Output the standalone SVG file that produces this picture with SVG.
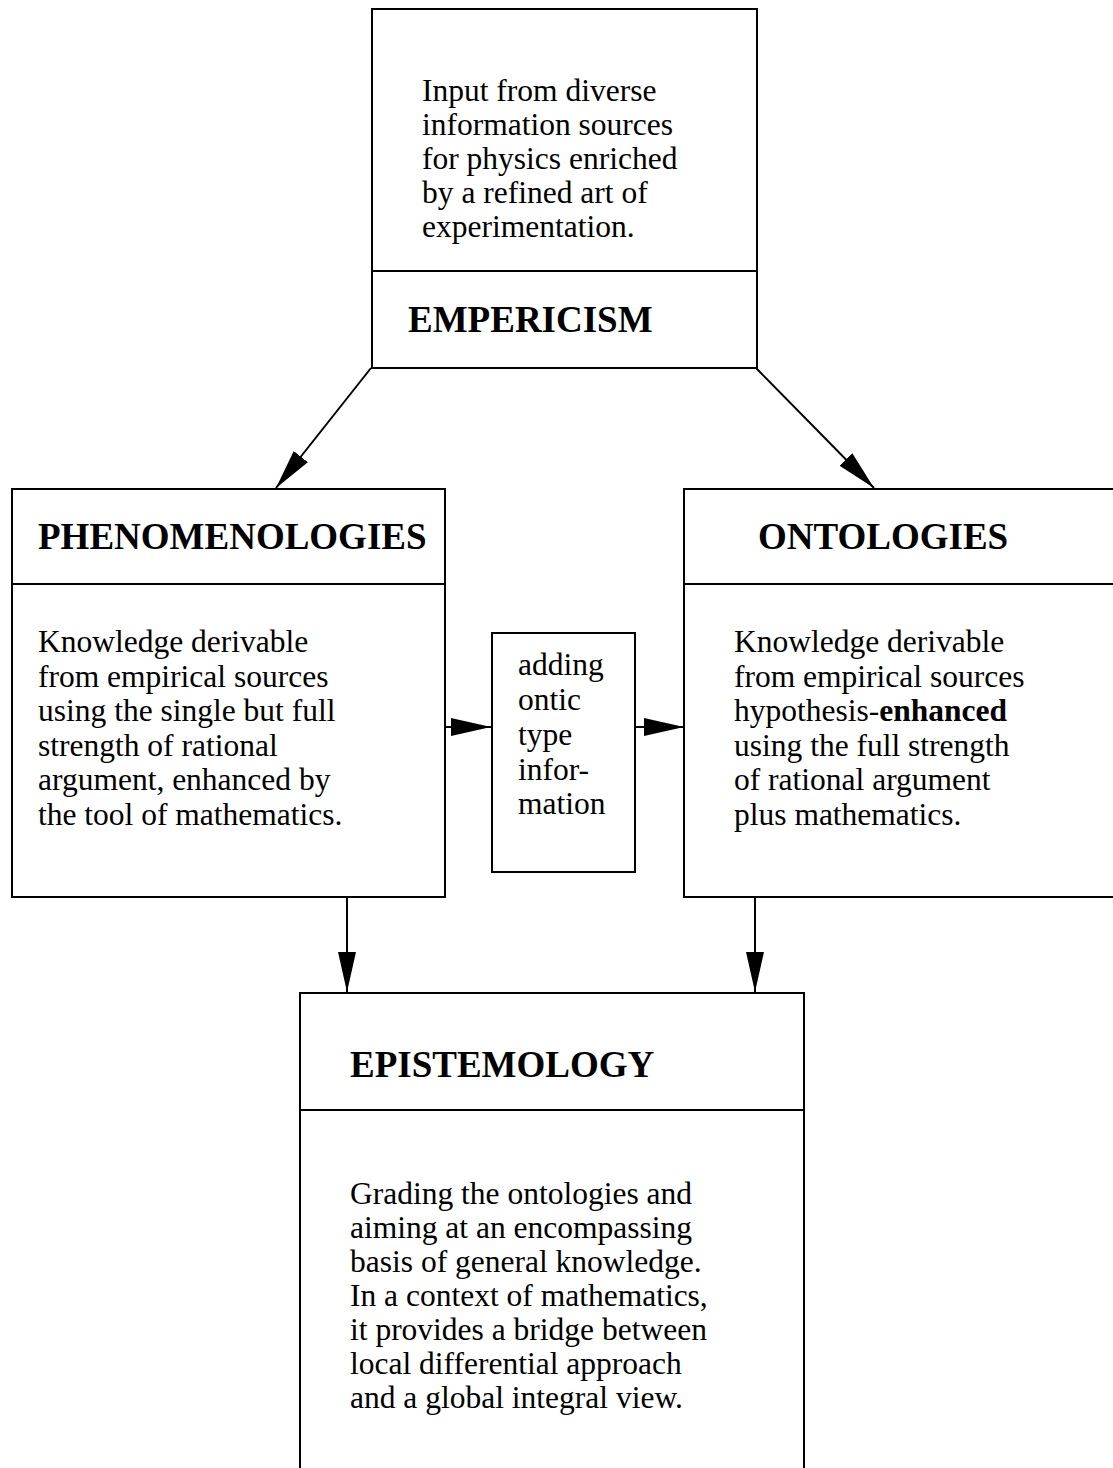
<svg xmlns="http://www.w3.org/2000/svg" width="1113" height="1468" viewBox="0 0 1113 1468">
<style>
.box{fill:#fff;stroke:#000;stroke-width:2}
.div{stroke:#000;stroke-width:2}
.t{font-family:"Liberation Serif","Times New Roman",serif;font-size:31.5px;fill:#000}
.h{font-family:"Liberation Serif","Times New Roman",serif;font-size:37px;font-weight:bold;fill:#000}
.c{stroke:#000;stroke-width:2;fill:none;marker-end:url(#ah)}
</style>
<defs>
<marker id="ah" viewBox="0 0 40 18" refX="40" refY="9" markerWidth="40" markerHeight="18" markerUnits="userSpaceOnUse" orient="auto">
<path d="M0,0 L40,9 L0,18 z" fill="#000"/>
</marker>
</defs>
<rect width="1113" height="1468" fill="#fff"/>
<g id="empiricism">
<rect class="box" x="372" y="9" width="385" height="359"/>
<line class="div" x1="372" y1="271" x2="757" y2="271"/>
<text class="t" x="422"><tspan x="422" y="101">Input from diverse</tspan><tspan x="422" y="135">information sources</tspan><tspan x="422" y="169">for physics enriched</tspan><tspan x="422" y="203">by a refined art of</tspan><tspan x="422" y="237">experimentation.</tspan></text>
<text class="h" x="408" y="332">EMPERICISM</text>
</g>
<g id="phenomenologies">
<rect class="box" x="12" y="489" width="433" height="408"/>
<line class="div" x1="12" y1="584" x2="445" y2="584"/>
<text class="h" x="38" y="549">PHENOMENOLOGIES</text>
<text class="t"><tspan x="38" y="652">Knowledge derivable</tspan><tspan x="38" y="686.6">from empirical sources</tspan><tspan x="38" y="721.2">using the single but full</tspan><tspan x="38" y="755.8">strength of rational</tspan><tspan x="38" y="790.4">argument, enhanced by</tspan><tspan x="38" y="825">the tool of mathematics.</tspan></text>
</g>
<g id="adding-ontic">
<rect class="box" x="492" y="633" width="143" height="239"/>
<text class="t"><tspan x="518" y="675">adding</tspan><tspan x="518" y="710">ontic</tspan><tspan x="518" y="745">type</tspan><tspan x="518" y="780">infor-</tspan><tspan x="518" y="814">mation</tspan></text>
</g>
<g id="ontologies">
<rect class="box" x="684" y="489" width="460" height="408"/>
<line class="div" x1="684" y1="584" x2="1144" y2="584"/>
<text class="h" x="758" y="549">ONTOLOGIES</text>
<text class="t"><tspan x="734" y="652">Knowledge derivable</tspan><tspan x="734" y="686.6">from empirical sources</tspan><tspan x="734" y="721.2">hypothesis-<tspan font-weight="bold">enhanced</tspan></tspan><tspan x="734" y="755.8">using the full strength</tspan><tspan x="734" y="790.4">of rational argument</tspan><tspan x="734" y="825">plus mathematics.</tspan></text>
</g>
<g id="epistemology">
<rect class="box" x="300" y="993" width="504" height="520"/>
<line class="div" x1="300" y1="1110" x2="804" y2="1110"/>
<text class="h" x="350" y="1077">EPISTEMOLOGY</text>
<text class="t"><tspan x="350" y="1204">Grading the ontologies and</tspan><tspan x="350" y="1238">aiming at an encompassing</tspan><tspan x="350" y="1272">basis of general knowledge.</tspan><tspan x="350" y="1306">In a context of mathematics,</tspan><tspan x="350" y="1340">it provides a bridge between</tspan><tspan x="350" y="1374">local differential approach</tspan><tspan x="350" y="1408">and a global integral view.</tspan></text>
</g>
<g id="connectors">
<line class="c" x1="371" y1="368" x2="276" y2="488"/>
<line class="c" x1="756" y1="368" x2="874" y2="488"/>
<line class="c" x1="445" y1="727" x2="491" y2="727"/>
<line class="c" x1="635" y1="727" x2="684" y2="727"/>
<line class="c" x1="347" y1="897" x2="347" y2="992"/>
<line class="c" x1="755" y1="897" x2="755" y2="992"/>
</g>
</svg>
